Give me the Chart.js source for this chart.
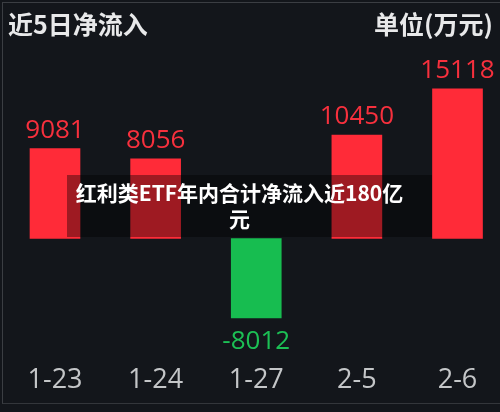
<!DOCTYPE html>
<html>
<head>
<meta charset="utf-8">
<script src="https://cdn.jsdelivr.net/npm/chart.js@4.4.0/dist/chart.umd.min.js"></script>
<style>
  html, body { margin: 0; padding: 0; background: #1c1e22; }
  #wrap {
    position: relative; width: 500px; height: 412px; overflow: hidden;
    background: #13161b;
  }
  #frame {
    position: absolute; left: 2px; top: 2px; right: 0; bottom: 8px;
    border-left: 1px solid #3b3e43; border-top: 1px solid #3b3e43; border-bottom: 1px solid #33363b;
    pointer-events: none;
  }
  canvas { position: absolute; left: 0; top: 0; }
  .hd {
    position: absolute; top: 10px; font: bold 25px "Noto Sans CJK SC", sans-serif;
    color: #e8e9ea; line-height: 27px; white-space: nowrap;
  }
  #title { left: 8px; }
  #unit { right: 7px; }
  #note {
    position: absolute; left: 67px; top: 175px; width: 345px; height: 58px;
    padding: 4px 20px 0 0; background: rgba(0,0,0,0.38);
    color: #ffffff; font: bold 21px "Noto Sans CJK SC", sans-serif; line-height: 26px;
    text-align: center;
  }
</style>
</head>
<body>
<div id="wrap">
  <canvas id="myChart" width="500" height="412"></canvas>
  <div id="frame"></div>
  <div class="hd" id="title">近5日净流入</div>
  <div class="hd" id="unit">单位(万元)</div>
  <div id="note">红利类ETF年内合计净流入近180亿<br>元</div>
</div>
<script>
const dates = ['1-23', '1-24', '1-27', '2-5', '2-6']
const netFlow = [9081, 8056, -8012, 10450, 15118]

const upColor = '#ff2b38'
const downColor = '#17bd50'
const barColors = netFlow.map(v => v >= 0 ? upColor : downColor)
const labelColors = netFlow.map(v => v >= 0 ? '#f7303d' : '#1cc055')

// value labels above / below each bar
const valueLabels = {
  id: 'valueLabels',
  afterDatasetsDraw(chart) {
    const ctx = chart.ctx
    const meta = chart.getDatasetMeta(0)
    ctx.save()
    ctx.font = '26px "Open Sans", sans-serif'
    ctx.textAlign = 'center'
    ctx.textBaseline = 'alphabetic'
    meta.data.forEach((bar, i) => {
      const v = netFlow[i]
      ctx.fillStyle = labelColors[i]
      const y = v >= 0 ? bar.y - 11 : bar.y + 31
      ctx.fillText(String(v), bar.x, y)
    })
    ctx.restore()
  }
}

const ctx = document.getElementById('myChart')

var myChart = new Chart(ctx, {
  type: 'bar',
  data: {
    labels: dates,
    datasets: [{
      data: netFlow,
      backgroundColor: barColors,
      borderWidth: 0,
      barThickness: 50,
      clip: false
    }]
  },
  options: {
    responsive: false,
    animation: false,
    layout: { padding: { top: 40.5, bottom: 15.8, left: 55, right: 42.5 } },
    plugins: {
      legend: { display: false },
      tooltip: { enabled: false }
    },
    scales: {
      x: {
        offset: false,
        grid: { display: false, drawTicks: false },
        border: { display: false },
        afterFit: (scale) => { scale.height = 38.9 },
        ticks: {
          color: '#c4c6c8',
          padding: 6.5,
          font: { family: '"Open Sans", sans-serif', size: 27 }
        }
      },
      y: {
        display: false,
        min: -12000,
        max: 20000
      }
    }
  },
  plugins: [valueLabels]
})
</script>
</body>
</html>
